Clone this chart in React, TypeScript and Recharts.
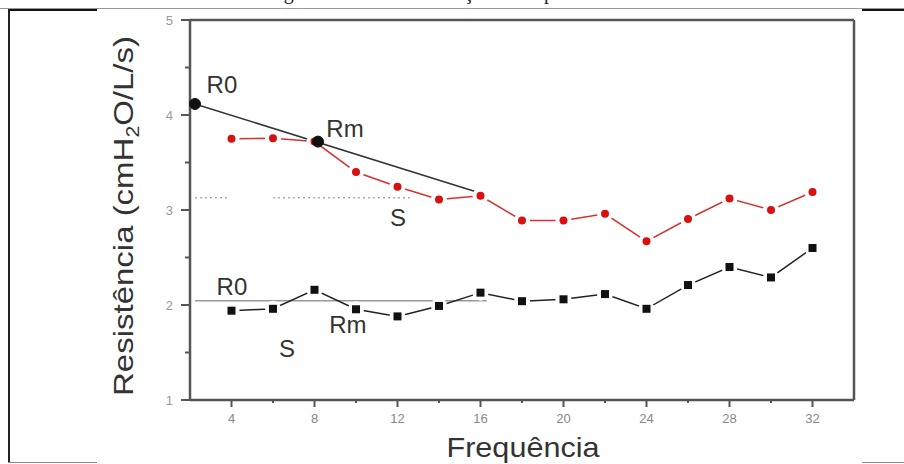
import React from 'react'
import {
  LineChart,
  Line,
  XAxis,
  YAxis,
  ReferenceLine,
  ReferenceDot,
} from 'recharts'

// frequency (x) and the two resistance curves
const freq = [4, 6, 8, 10, 12, 14, 16, 18, 20, 22, 24, 26, 28, 30, 32]
const redSeries = [3.75, 3.755, 3.72, 3.4, 3.245, 3.11, 3.15, 2.89, 2.89, 2.96, 2.67, 2.905, 3.12, 3.0, 3.19]
const blackSeries = [1.94, 1.96, 2.16, 1.955, 1.88, 1.99, 2.13, 2.04, 2.06, 2.115, 1.96, 2.21, 2.4, 2.29, 2.6]

const xTicks = [4, 6, 8, 10, 12, 14, 16, 18, 20, 22, 24, 26, 28, 30, 32]
const yTicks = [1, 1.5, 2, 2.5, 3, 3.5, 4, 4.5, 5]

// tangent from R0 to the curve, R0 / Rm points on the red curve
const tangent = [
  { x: 2.24, y: 4.116 },
  { x: 15.82, y: 3.19 },
]
const redMarks = [
  { x: 2.24, y: 4.116 },
  { x: 8.17, y: 3.72 },
]
// dotted S level on the red curve (two pieces) and R0 level on the black curve
const sLevel = 3.13
const sPieces = [
  [2.24, 3.83],
  [6.0, 12.6],
]
const r0Level = 2.045
const r0Span = [2.24, 16.3]

const annotations = [
  { x: 3.54, y: 4.316, text: 'R0' },
  { x: 9.47, y: 3.863, text: 'Rm' },
  { x: 12.02, y: 2.926, text: 'S' },
  { x: 4.02, y: 2.19, text: 'R0' },
  { x: 9.61, y: 1.79, text: 'Rm' },
  { x: 6.67, y: 1.537, text: 'S' },
]

const data = freq.map((f, i) => ({ f, red: redSeries[i], black: blackSeries[i] }))

const SANS = '"Liberation Sans", Arial, sans-serif'

const RedDot = (props: any) => {
  const { cx, cy } = props
  if (cx == null || cy == null) return null
  return (
    <g>
      <circle cx={cx} cy={cy} r={8} fill="#fff" />
      <circle cx={cx} cy={cy} r={4} fill="#d81010" />
    </g>
  )
}

const BlackDot = (props: any) => {
  const { cx, cy } = props
  if (cx == null || cy == null) return null
  return (
    <g>
      <circle cx={cx} cy={cy} r={8} fill="#fff" />
      <rect x={cx - 4} y={cy - 4} width={8} height={8} fill="#111" />
    </g>
  )
}

const YTick = (props: any) => {
  const { x, y, payload } = props
  const major = Number.isInteger(payload.value)
  return (
    <g>
      <line x1={x - (major ? 9 : 5)} x2={x} y1={y} y2={y} stroke="#555" strokeWidth={2} />
      {major && (
        <text x={x - 17} y={y} textAnchor="end" dominantBaseline="central" fontSize={13} fill="#999" fontFamily={SANS}>
          {payload.value}
        </text>
      )}
    </g>
  )
}

const XTick = (props: any) => {
  const { x, y, payload } = props
  const major = payload.value % 4 === 0
  return (
    <g>
      <line x1={x} x2={x} y1={y} y2={y + (major ? 7 : 3)} stroke="#555" strokeWidth={2} />
      {major && (
        <text x={x} y={y + 18} textAnchor="middle" dominantBaseline="central" fontSize={13} fill="#888" fontFamily={SANS}>
          {payload.value}
        </text>
      )}
    </g>
  )
}

const YTitle = (props: any) => {
  const vb = props.viewBox
  const x = vb.x + 3
  const y = vb.y + vb.height / 2 + 6
  return (
    <text
      transform={`translate(${x},${y}) rotate(-90)`}
      textAnchor="middle"
      fontSize={28}
      fill="#333"
      fontFamily={SANS}
      textLength={360}
      lengthAdjust="spacingAndGlyphs"
    >
      Resistência (cmH
      <tspan dy={6} fontSize={18}>2</tspan>
      <tspan dy={-6}>O/L/s)</tspan>
    </text>
  )
}

const XTitle = (props: any) => {
  const vb = props.viewBox
  return (
    <text
      x={vb.x + vb.width / 2 + 1}
      y={vb.y + 57}
      textAnchor="middle"
      fontSize={28}
      fill="#333"
      fontFamily={SANS}
      textLength={153}
      lengthAdjust="spacingAndGlyphs"
    >
      Frequência
    </text>
  )
}

const line = (style: React.CSSProperties) => <div style={{ position: 'absolute', ...style }} />

export default function App() {
  return (
    <div style={{ position: 'absolute', left: 0, top: 0, width: 904, height: 464, overflow: 'hidden', background: '#fff' }}>
      {/* cut-off caption of the page above the figure */}
      <div style={{ position: 'absolute', top: -18, left: 0, width: 904, height: 22, fontFamily: '"Liberation Serif", serif', fontSize: 20, lineHeight: '20px', color: '#222' }}>
        <span style={{ position: 'absolute', left: 267 }}>Figura</span>
        <span style={{ position: 'absolute', left: 413 }}>Oscilação</span>
        <span style={{ position: 'absolute', left: 544 }}>por</span>
      </div>
      {line({ left: 0, top: 8, width: 904, height: 1, background: '#999' })}
      {line({ left: 8, top: 9, width: 89, height: 1.5, background: '#111' })}
      {line({ left: 862, top: 9, width: 42, height: 1.5, background: '#111' })}
      {line({ left: 8, top: 9, width: 1.5, height: 454, background: '#222' })}
      {line({ left: 8, top: 462, width: 89, height: 1, background: '#888' })}
      {line({ left: 862, top: 462, width: 42, height: 1, background: '#888' })}

      <LineChart width={904} height={464} data={data} margin={{ top: 20, right: 50, bottom: 34, left: 130 }}>
        <XAxis
          type="number"
          dataKey="f"
          domain={[2, 34]}
          ticks={xTicks}
          interval={0}
          height={30}
          tickLine={false}
          tickSize={0}
          tickMargin={0}
          tick={<XTick />}
          axisLine={{ stroke: '#555', strokeWidth: 2.5 }}
          label={XTitle}
        />
        <YAxis
          type="number"
          domain={[1, 5]}
          ticks={yTicks}
          interval={0}
          width={60}
          tickLine={false}
          tickSize={0}
          tickMargin={0}
          tick={<YTick />}
          axisLine={{ stroke: '#555', strokeWidth: 2.5 }}
          label={YTitle}
        />
        <ReferenceLine y={5} stroke="#555" strokeWidth={2.5} />
        <ReferenceLine x={34} stroke="#555" strokeWidth={2.5} />
        {sPieces.map((p, i) => (
          <ReferenceLine
            key={`s${i}`}
            segment={[
              { x: p[0], y: sLevel },
              { x: p[1], y: sLevel },
            ]}
            stroke="#aaa"
            strokeWidth={1.5}
            strokeDasharray="2 3"
          />
        ))}
        <ReferenceLine
          segment={[
            { x: r0Span[0], y: r0Level },
            { x: r0Span[1], y: r0Level },
          ]}
          stroke="#999"
          strokeWidth={1.5}
        />
        <Line
          dataKey="red"
          stroke="#d83030"
          strokeWidth={1.5}
          dot={<RedDot />}
          activeDot={false}
          isAnimationActive={false}
        />
        <Line
          dataKey="black"
          stroke="#222"
          strokeWidth={1.5}
          dot={<BlackDot />}
          activeDot={false}
          isAnimationActive={false}
        />
        <ReferenceLine segment={tangent} stroke="#333" strokeWidth={1.5} />
        {redMarks.map((m, i) => (
          <ReferenceDot key={`m${i}`} x={m.x} y={m.y} r={5.5} fill="#111" stroke="#111" />
        ))}
        {annotations.map((a, i) => (
          <ReferenceDot
            key={`a${i}`}
            x={a.x}
            y={a.y}
            r={0}
            shape={(p: any) => (
              <text x={p.cx} y={p.cy} textAnchor="middle" dominantBaseline="central" fontSize={24} fill="#333" fontFamily={SANS}>
                {a.text}
              </text>
            )}
          />
        ))}
      </LineChart>
    </div>
  )
}
